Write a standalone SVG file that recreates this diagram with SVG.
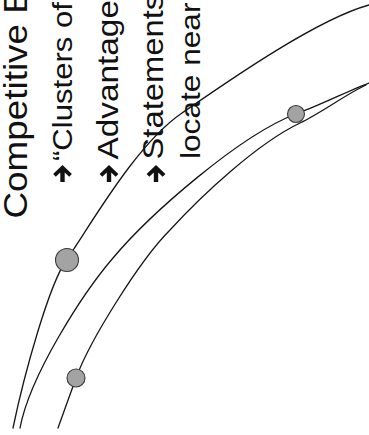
<svg xmlns="http://www.w3.org/2000/svg" width="369" height="435" viewBox="0 0 369 435">
  <defs>
    <style>
      .t { font-family: "Liberation Sans", Arial, sans-serif; fill: #111; }
      .curve { fill: none; stroke: #151515; stroke-width: 1.3; stroke-linecap: round; }
      .dot { fill: #a3a3a3; stroke: #3a3a3a; stroke-width: 1.1; }
      .arr { fill: #111; }
    </style>
    <path id="arrow" d="M0,-8.6 L9.4,0.6 L6.7,3.3 L2.2,-1.1 L2.2,8.6 L-2.2,8.6 L-2.2,-1.1 L-6.7,3.3 L-9.4,0.6 Z"/>
  </defs>
  <rect width="369" height="435" fill="#ffffff"/>

  <g id="connectors">
    <path id="curve-outer" class="curve" d="M13,428 C24,375 49,284 67,259 C89,228 135,145 182,113 C224,84 315,20 369,5"/>
    <path id="curve-middle" class="curve" d="M20,428 C30,375 83,293 113,258 C150,214 240,135 296,114 C324,103.5 350,90 369,83"/>
    <path id="curve-inner" class="curve" d="M58,428 C64,411 70,395 76,378 C90,340 140,260 170,230 C203,194 258,143 300,123 C321,113 348,93 366,85"/>
  </g>

  <g id="markers">
    <circle id="marker-outer" class="dot" cx="67" cy="260" r="11.5"/>
    <circle id="marker-inner" class="dot" cx="76" cy="378" r="9"/>
    <circle id="marker-middle" class="dot" cx="296" cy="114" r="8.5"/>
  </g>

  <g id="title">
    <text class="t" font-size="33.5" transform="translate(26.5,218.5) rotate(-90) scale(1.10,1)">Competitive E</text>
  </g>

  <g id="bullet-clusters">
    <use href="#arrow" class="arr" x="62.5" y="173.5"/>
    <text class="t" font-size="28" transform="translate(72,161) rotate(-90) scale(1.11,1)">“Clusters of</text>
  </g>

  <g id="bullet-advantage">
    <use href="#arrow" class="arr" x="109" y="173.5"/>
    <text class="t" font-size="29" transform="translate(118,159.5) rotate(-90) scale(1.15,1)">Advantage</text>
  </g>

  <g id="bullet-statements">
    <use href="#arrow" class="arr" x="156" y="173.5"/>
    <text class="t" font-size="29" transform="translate(163,159.5) rotate(-90) scale(1.13,1)">Statements</text>
    <text class="t" font-size="28" transform="translate(200,159) rotate(-90) scale(1.13,1)">locate near</text>
  </g>
</svg>
